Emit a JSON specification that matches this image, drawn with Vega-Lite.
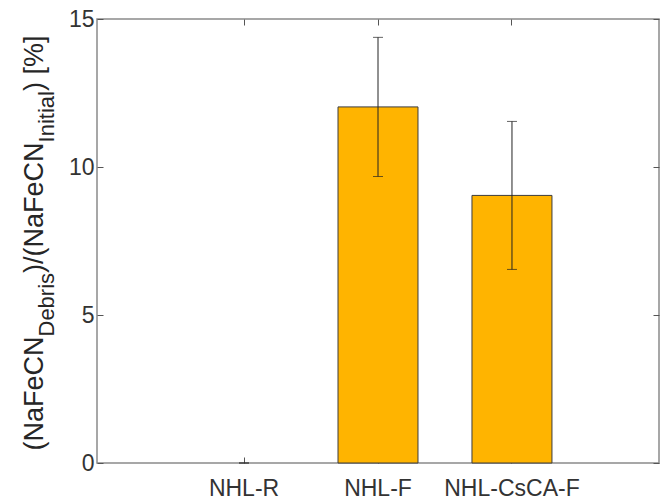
{
  "$schema": "https://vega.github.io/schema/vega-lite/v6.json",
  "width": 562,
  "height": 444,
  "autosize": {"type": "none"},
  "padding": {"left": 97, "top": 19, "right": 8, "bottom": 39},
  "background": "white",
  "config": {
    "font": "Liberation Sans",
    "view": {"stroke": "#8a8a8a", "strokeWidth": 1.5},
    "axis": {"grid": false, "domain": false, "labelFont": "Liberation Sans", "titleFont": "Liberation Sans", "labelColor": "#333333", "titleColor": "#262626", "titleFontWeight": "normal", "tickColor": "#555555", "tickWidth": 1}
  },
  "data": {
    "values": [
      {"group": "NHL-R", "mean": 0, "lo": 0, "hi": 0},
      {"group": "NHL-F", "mean": 12.03, "lo": 9.68, "hi": 14.38},
      {"group": "NHL-CsCA-F", "mean": 9.04, "lo": 6.54, "hi": 11.54}
    ]
  },
  "resolve": {"axis": {"x": "independent", "y": "independent"}},
  "layer": [
    {
      "mark": {"type": "bar", "fill": "#FFB400", "strokeWidth": 0},
      "encoding": {
        "x": {"field": "group", "type": "nominal", "sort": null,
          "scale": {"paddingInner": 0.403, "paddingOuter": 0.799},
          "axis": {"orient": "bottom", "title": null, "labelAngle": 0, "labelFontSize": 23, "labelPadding": 20, "tickSize": -6, "ticks": true}},
        "y": {"field": "mean", "type": "quantitative",
          "scale": {"domain": [0, 15], "nice": false, "zero": true},
          "axis": {"orient": "left", "values": [0, 5, 10, 15], "labelFontSize": 23, "labelPadding": 9, "tickSize": -6,
            "title": "(NaFeCN", "titleFontSize": 27, "titleAngle": 270, "titleAlign": "left", "titleBaseline": "alphabetic", "titleX": -55, "titleY": 431}}
      }
    },
    {
      "transform": [{"filter": "datum.mean > 0"}],
      "mark": {"type": "bar", "fill": null, "fillOpacity": 0, "stroke": "#3c3c3c", "strokeWidth": 1},
      "encoding": {
        "x": {"field": "group", "type": "nominal", "sort": null,
          "axis": {"orient": "top", "title": null, "labels": false, "tickSize": -6}},
        "y": {"field": "mean", "type": "quantitative",
          "axis": {"orient": "right", "values": [0, 5, 10, 15], "labels": false, "tickSize": -6,
            "title": ") [%]", "titleFontSize": 27, "titleAngle": 270, "titleAlign": "left", "titleBaseline": "alphabetic", "titleX": -617, "titleY": 71.6}}
      }
    },
    {
      "mark": {"type": "rule", "color": "#222222", "strokeWidth": 1},
      "encoding": {
        "x": {"field": "group", "type": "nominal", "sort": null, "axis": null},
        "y": {"field": "lo", "type": "quantitative",
          "axis": {"orient": "left", "labels": false, "ticks": false,
            "title": "Debris", "titleFontSize": 22, "titleAngle": 270, "titleAlign": "left", "titleBaseline": "alphabetic", "titleX": -44, "titleY": 317}},
        "y2": {"field": "hi"}
      }
    },
    {
      "mark": {"type": "tick", "color": "#222222", "thickness": 1, "size": 10, "orient": "horizontal"},
      "encoding": {
        "x": {"field": "group", "type": "nominal", "sort": null, "axis": null},
        "y": {"field": "lo", "type": "quantitative",
          "axis": {"orient": "left", "labels": false, "ticks": false,
            "title": ")/(NaFeCN", "titleFontSize": 27, "titleAngle": 270, "titleAlign": "left", "titleBaseline": "alphabetic", "titleX": -55, "titleY": 253.4}}
      }
    },
    {
      "mark": {"type": "tick", "color": "#222222", "thickness": 1, "size": 10, "orient": "horizontal"},
      "encoding": {
        "x": {"field": "group", "type": "nominal", "sort": null, "axis": null},
        "y": {"field": "hi", "type": "quantitative",
          "axis": {"orient": "left", "labels": false, "ticks": false,
            "title": "Initial", "titleFontSize": 22, "titleAngle": 270, "titleAlign": "left", "titleBaseline": "alphabetic", "titleX": -44, "titleY": 122.9}}
      }
    }
  ]
}
